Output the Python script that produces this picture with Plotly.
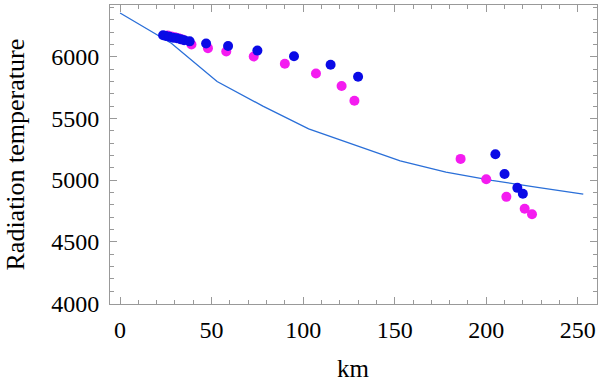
import plotly.graph_objects as go

# model curve
line_km = [0, 28, 53, 78, 103, 128, 153, 178, 203, 228, 253]
line_temp = [6355, 6110, 5800, 5600, 5415, 5285, 5155, 5065, 4998, 4940, 4887]

# blue observations
blue_km = [23.5, 25, 27, 29, 31, 33, 35, 38, 47, 59, 75, 95, 115, 130,
           205, 210, 217, 220]
blue_temp = [6175, 6168, 6162, 6155, 6150, 6143, 6135, 6125, 6108, 6088,
             6050, 6005, 5935, 5838, 5209, 5050, 4937, 4889]

# magenta observations
mag_km = [26, 28, 30, 32, 34, 39, 48, 58, 73, 90, 107, 121, 128,
          186, 200, 211, 221, 225]
mag_temp = [6172, 6165, 6158, 6150, 6140, 6100, 6070, 6043, 6002, 5943,
            5865, 5763, 5644, 5172, 5007, 4864, 4767, 4723]

fig = go.Figure()
fig.add_trace(go.Scatter(x=line_km, y=line_temp, mode="lines",
                         line=dict(color="#2a6fd8", width=1.3)))
fig.add_trace(go.Scatter(x=mag_km, y=mag_temp, mode="markers",
                         marker=dict(color="#f41cf0", size=10)))
fig.add_trace(go.Scatter(x=blue_km, y=blue_temp, mode="markers",
                         marker=dict(color="#0a0ae6", size=10)))

serif = "Liberation Serif"
common = dict(showgrid=False, zeroline=False, showline=True, linecolor="#999999",
              linewidth=1, mirror="allticks", ticks="inside", ticklen=7,
              tickcolor="#999999", automargin=False)

fig.update_xaxes(range=[-5.5, 260.5], tickvals=[0, 50, 100, 150, 200, 250],
                 minor=dict(dtick=10, ticks="inside", ticklen=4, tickcolor="#999999"),
                 tickfont=dict(family=serif, size=24, color="black"),
                 ticklabelstandoff=4, **common)
fig.update_yaxes(range=[3995, 6420], tickvals=[4000, 4500, 5000, 5500, 6000],
                 minor=dict(dtick=100, ticks="inside", ticklen=4, tickcolor="#999999"),
                 tickfont=dict(family=serif, size=24, color="black"),
                 ticklabelstandoff=5, **common)

fig.add_annotation(text="km", xref="paper", yref="paper", x=0.5, y=0,
                   yshift=-64, yanchor="middle", showarrow=False,
                   font=dict(family=serif, size=25, color="black"))
fig.add_annotation(text="Radiation temperature", xref="paper", yref="paper",
                   x=0, y=0.5, xshift=-95, xanchor="center", textangle=-90,
                   showarrow=False, font=dict(family=serif, size=26, color="black"))

fig.update_layout(width=600, height=383, showlegend=False,
                  font=dict(family=serif, color="black"),
                  plot_bgcolor="white", paper_bgcolor="white",
                  margin=dict(l=110, r=3, t=5, b=79))

fig.write_html("out.html", config={"displayModeBar": False},
               post_script="document.body.style.margin='0';")
